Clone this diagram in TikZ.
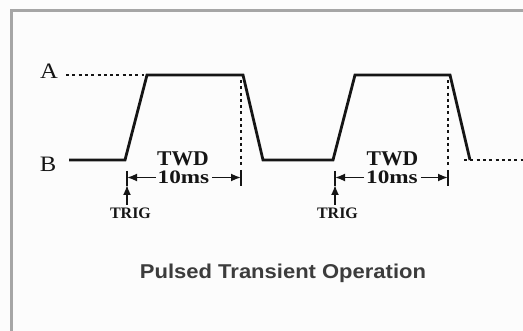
\documentclass[tikz,border=0pt]{standalone}
\usepackage{fontspec}
\setmainfont{Liberation Serif}
\newfontfamily\titlefont{Liberation Sans}
\usetikzlibrary{arrows.meta}
\definecolor{framegray}{HTML}{A6A6A6}
\definecolor{ink}{HTML}{151515}
\definecolor{titlegray}{HTML}{3C3C3C}
\definecolor{paper}{HTML}{FCFCFC}
\tikzset{
  wave/.style={draw=ink, line width=2.8pt, line join=miter},
  dots/.style={draw=ink, line width=2.8pt, dash pattern=on 3pt off 3.3pt},
  tickline/.style={draw=ink, line width=1.5pt},
  dimarrow/.style={draw=ink, line width=1.8pt, -{Latex[length=10pt,width=8pt]}},
  trigarrow/.style={draw=ink, line width=1.8pt, -{Latex[length=10pt,width=8pt]}},
  level/.style={text=ink, inner sep=0pt, font=\fontsize{22}{22}\selectfont},
  twd/.style={text=ink, inner sep=0pt, font=\bfseries\fontsize{21}{21}\selectfont},
  ms/.style={text=ink, inner sep=0pt, font=\bfseries\fontsize{19}{19}\selectfont},
  trig/.style={text=ink, inner sep=0pt, font=\bfseries\fontsize{16}{16}\selectfont},
  title/.style={text=titlegray, inner sep=0pt, font=\titlefont\bfseries\fontsize{20}{20}\selectfont}
}
\begin{document}
\begin{tikzpicture}[x=1pt,y=-1pt]
\useasboundingbox (0,0) rectangle (523,331);
\fill[paper] (0,0) rectangle (523,331);
% frame
\draw[framegray, line width=3pt] (11.5,335) -- (11.5,11) -- (530,11);
% level labels
\node[level] (A) at (49,71) {\scalebox{1.12}[1]{A}};
\node[level] (B) at (48,164.5) {\scalebox{1.12}[1]{B}};
% waveform coordinates
\coordinate (w0) at (69,160);
\coordinate (w1) at (125,160);
\coordinate (w2) at (147,75);
\coordinate (w3) at (243,75);
\coordinate (w4) at (263,160);
\coordinate (w5) at (333,160);
\coordinate (w6) at (355,75);
\coordinate (w7) at (450,75);
\coordinate (w8) at (470,160);
\draw[wave] (w0) -- (w1) -- (w2) -- (w3) -- (w4) -- (w5) -- (w6) -- (w7) -- (w8);
% dotted guides
\coordinate (da0) at (66,75);
\coordinate (da1) at (144,75);
\draw[dots] (da0) -- (da1);
\coordinate (db0) at (464,160);
\coordinate (db1) at (523,160);
\draw[dots] (db0) -- (db1);
\coordinate (v1t) at (241,80);
\coordinate (v1b) at (241,168);
\draw[dots] (v1t) -- (v1b);
\coordinate (v2t) at (448,80);
\coordinate (v2b) at (448,168);
\draw[dots] (v2t) -- (v2b);
% ticks
\coordinate (t1a) at (127,171); \coordinate (t1b) at (127,186);
\coordinate (t2a) at (241,170); \coordinate (t2b) at (241,186);
\coordinate (t3a) at (335,171); \coordinate (t3b) at (335,186);
\coordinate (t4a) at (448,170); \coordinate (t4b) at (448,186);
\draw[tickline] (t1a) -- (t1b);
\draw[tickline] (t2a) -- (t2b);
\draw[tickline] (t3a) -- (t3b);
\draw[tickline] (t4a) -- (t4b);
% first pulse labels
\node[twd] (twd1) at (183,159) {\scalebox{1.03}[1]{TWD}};
\node[ms] (ms1) at (183.5,177.5) {\scalebox{1.22}[1]{10ms}};
\coordinate (m1l) at (127,177.5);
\coordinate (m1r) at (241,177.5);
\draw[dimarrow] ([xshift=-2pt]ms1.west) -- (m1l);
\draw[dimarrow] ([xshift=3pt]ms1.east) -- (m1r);
\node[trig] (trig1) at (130.5,213) {TRIG};
\coordinate (ta1) at (127,205);
\coordinate (tb1) at (127,185);
\draw[trigarrow] (ta1) -- (tb1);
% second pulse labels
\node[twd] (twd2) at (392.5,159) {\scalebox{1.03}[1]{TWD}};
\node[ms] (ms2) at (392,177.5) {\scalebox{1.22}[1]{10ms}};
\coordinate (m2l) at (335,177.5);
\coordinate (m2r) at (448,177.5);
\draw[dimarrow] ([xshift=-2pt]ms2.west) -- (m2l);
\draw[dimarrow] ([xshift=3pt]ms2.east) -- (m2r);
\node[trig] (trig2) at (337.5,213) {TRIG};
\coordinate (ta2) at (335,205);
\coordinate (tb2) at (335,185);
\draw[trigarrow] (ta2) -- (tb2);
% title
\node[title] (ttl) at (283,273) {\scalebox{1.1}[1]{Pulsed Transient Operation}};
\end{tikzpicture}
\end{document}
